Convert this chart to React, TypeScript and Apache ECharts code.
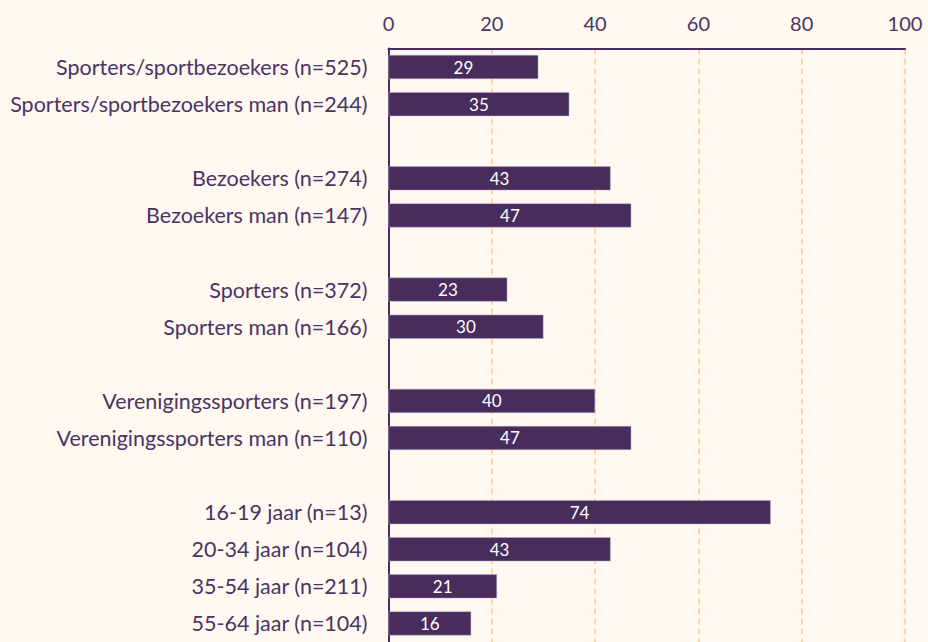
import React, { useEffect, useRef } from "react";
import * as echarts from "echarts";

const categories = [
  "Sporters/sportbezoekers (n=525)",
  "Sporters/sportbezoekers man (n=244)",
  "",
  "Bezoekers (n=274)",
  "Bezoekers man (n=147)",
  " ",
  "Sporters (n=372)",
  "Sporters man (n=166)",
  "  ",
  "Verenigingssporters (n=197)",
  "Verenigingssporters man (n=110)",
  "   ",
  "16-19 jaar (n=13)",
  "20-34 jaar (n=104)",
  "35-54 jaar (n=211)",
  "55-64 jaar (n=104)",
];

const values: (number | null)[] = [29, 35, null, 43, 47, null, 23, 30, null, 40, 47, null, 74, 43, 21, 16];

const xTicks = [0, 20, 40, 60, 80, 100];

export default function App() {
  const ref = useRef<HTMLDivElement>(null);
  useEffect(() => {
    if (!ref.current) return;
    const chart = echarts.init(ref.current, null, { renderer: "svg" });
    chart.setOption({
      animation: false,
      backgroundColor: "#fff9f2",
      textStyle: { fontFamily: "Lato" },
      grid: { left: 388.5, right: 23, top: 48.5, bottom: -3, containLabel: false },
      xAxis: {
        type: "value",
        position: "top",
        min: xTicks[0],
        max: xTicks[xTicks.length - 1],
        interval: 20,
        axisLine: { show: true, lineStyle: { color: "#4a2d5e", width: 2 } },
        axisTick: { show: false },
        axisLabel: { color: "#4a3462", fontSize: 20, margin: 16, fontFamily: "Lato", fontWeight: 400 },
        splitLine: { show: true, lineStyle: { color: "#ffc98a", width: 1.5, type: [6, 4] } },
      },
      yAxis: {
        type: "category",
        inverse: true,
        data: categories,
        axisLine: { show: true, lineStyle: { color: "#4a2d5e", width: 2 } },
        axisTick: { show: false },
        axisLabel: { color: "#4a3462", fontSize: 21.5, margin: 21, fontFamily: "Lato", fontWeight: 400 },
        splitLine: { show: false },
      },
      series: [
        {
          type: "bar",
          data: values,
          barWidth: 24,
          itemStyle: { color: "#472c5c", borderColor: "#b8a8c4", borderWidth: 0.5 },
          label: {
            show: true,
            position: "inside",
            color: "#ffffff",
            fontSize: 17,
            fontFamily: "Lato",
            fontWeight: 400,
          },
        },
      ],
    });
    return () => chart.dispose();
  }, []);
  return (
    <div
      ref={ref}
      style={{ position: "fixed", left: 0, top: 0, width: 928, height: 642 }}
    />
  );
}
